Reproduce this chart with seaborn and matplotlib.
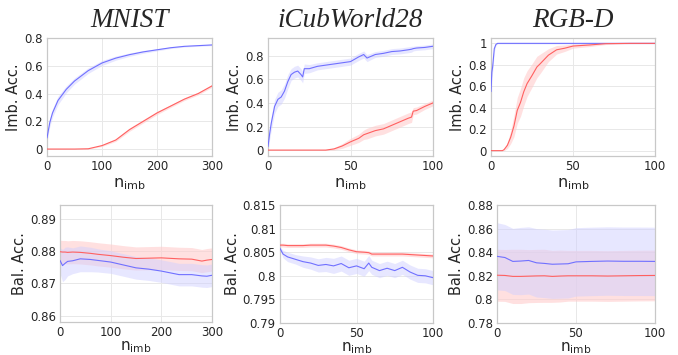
import numpy as np
import pandas as pd
import matplotlib
matplotlib.use("Agg")
import matplotlib.pyplot as plt
from matplotlib.ticker import FuncFormatter
import seaborn as sns

# ---------------- data ----------------
titles = ["MNIST", "iCubWorld28", "RGB-D"]

# Top row: imbalanced accuracy
mn_x = [0, 5, 10, 20, 35, 50, 75, 100, 125, 150, 175, 200, 225, 250, 275, 300]
mn_blue = [0.08, 0.19, 0.26, 0.35, 0.43, 0.49, 0.565, 0.62, 0.655, 0.68, 0.70, 0.715, 0.73, 0.74, 0.745, 0.75]
mn_blue_sd = [0.02, 0.03, 0.03, 0.03, 0.025, 0.022, 0.02, 0.018, 0.015, 0.012, 0.01, 0.008, 0.006, 0.005, 0.005, 0.005]
mn_red = [0, 0, 0, 0, 0, 0, 0.002, 0.025, 0.065, 0.14, 0.20, 0.26, 0.31, 0.36, 0.40, 0.455]
mn_red_sd = [0, 0, 0, 0, 0, 0, 0.002, 0.006, 0.01, 0.012, 0.012, 0.012, 0.01, 0.01, 0.01, 0.01]

ic_x = [0, 1, 2, 4, 6, 8, 10, 12, 14, 16, 18, 20, 21, 22, 25, 30, 35, 40, 45, 50,
        55, 58, 60, 65, 70, 75, 80, 85, 87, 88, 90, 95, 100]
ic_blue = [0.03, 0.14, 0.23, 0.37, 0.43, 0.45, 0.50, 0.58, 0.64, 0.66, 0.67, 0.64, 0.62, 0.69, 0.69,
           0.71, 0.72, 0.73, 0.74, 0.75, 0.79, 0.81, 0.78, 0.81, 0.82, 0.835, 0.84, 0.85, 0.855,
           0.86, 0.865, 0.87, 0.88]
ic_blue_sd = [0.03, 0.05, 0.06, 0.06, 0.06, 0.06, 0.06, 0.06, 0.05, 0.05, 0.05, 0.05, 0.05, 0.04, 0.035,
              0.03, 0.03, 0.03, 0.03, 0.03, 0.03, 0.03, 0.03, 0.025, 0.025, 0.025, 0.025, 0.025,
              0.025, 0.02, 0.02, 0.02, 0.02]
ic_red = [0] * 16 + [0.0, 0.01, 0.035, 0.07, 0.10, 0.13, 0.14, 0.165, 0.18, 0.21, 0.24, 0.27,
                     0.28, 0.33, 0.335, 0.37, 0.40]
ic_red_sd = [0] * 16 + [0.003, 0.01, 0.02, 0.03, 0.035, 0.04, 0.045, 0.045, 0.045, 0.045, 0.045,
                        0.045, 0.045, 0.03, 0.03, 0.025, 0.025]

rg_x = [0, 0.5, 1, 2, 3, 4, 6, 7, 8, 10, 12, 14, 16, 18, 20, 22, 25, 28, 30, 35, 40, 45, 50,
        60, 70, 85, 100]
rg_blue = [0.55, 0.73, 0.78, 0.95, 0.99] + [1.0] * 22
rg_blue_sd = [0.05, 0.05, 0.05, 0.03, 0.01] + [0.005] * 22
rg_red = [0] * 8 + [0.01, 0.05, 0.125, 0.23, 0.375, 0.45, 0.55, 0.625, 0.70, 0.78, 0.81, 0.89,
                    0.94, 0.955, 0.975, 0.985, 0.997, 1.0, 1.0]
rg_red_sd = [0] * 8 + [0.01, 0.03, 0.06, 0.1, 0.12, 0.13, 0.13, 0.12, 0.11, 0.1, 0.09, 0.06,
                       0.04, 0.03, 0.02, 0.015, 0.008, 0.003, 0.002]

# Bottom row: balanced accuracy
mb_x = [0, 5, 10, 15, 25, 40, 60, 75, 100, 125, 150, 175, 200, 235, 260, 280, 290, 300]
mb_red = [0.8798, 0.8797, 0.8797, 0.8796, 0.8797, 0.8796, 0.8793, 0.8790, 0.8786, 0.8781, 0.8777,
          0.8778, 0.8779, 0.8776, 0.8775, 0.8769, 0.8772, 0.8774]
mb_red_sd = [0.0036] * 18
mb_blue = [0.8771, 0.8755, 0.8762, 0.8768, 0.8770, 0.8776, 0.8774, 0.8771, 0.8766, 0.8757, 0.8748,
           0.8744, 0.8738, 0.8727, 0.8727, 0.8723, 0.8722, 0.8725]
mb_blue_sd = [0.004, 0.005, 0.005, 0.0045, 0.004, 0.004, 0.0038, 0.0036, 0.0035, 0.0035, 0.0035,
              0.0035, 0.0035, 0.0035, 0.0035, 0.0035, 0.0035, 0.0035]

ib_x = [0, 2, 5, 10, 15, 20, 25, 30, 35, 40, 45, 50, 55, 58, 60, 65, 70, 75, 80, 85, 90, 95, 100]
ib_red = [0.8065, 0.8065, 0.8064, 0.8064, 0.8064, 0.8065, 0.8065, 0.8065, 0.8063, 0.8060, 0.8055,
          0.8051, 0.8050, 0.8049, 0.8046, 0.8046, 0.8046, 0.8046, 0.8046, 0.8045, 0.8044, 0.8043,
          0.8042]
ib_red_sd = [0.0004] * 23
ib_blue = [0.8058, 0.8046, 0.8040, 0.8035, 0.8030, 0.8027, 0.8022, 0.8024, 0.8021, 0.8026, 0.8017,
           0.8021, 0.8015, 0.8027, 0.8018, 0.8011, 0.8016, 0.8011, 0.8018, 0.8008, 0.8001, 0.8000,
           0.7996]
ib_blue_sd = [0.0003, 0.0008, 0.001, 0.001, 0.0012, 0.0013, 0.0014, 0.0015, 0.0016, 0.0016, 0.0016,
              0.0016, 0.0016, 0.0016, 0.0015, 0.0015, 0.0015, 0.0015, 0.0015, 0.0015, 0.0015,
              0.0015, 0.0015]

rb_x = [0, 5, 10, 15, 20, 25, 30, 35, 40, 45, 50, 60, 70, 80, 90, 100]
rb_blue = [0.8365, 0.8355, 0.8322, 0.8325, 0.8330, 0.8310, 0.8305, 0.8298, 0.8300, 0.8302, 0.8318,
           0.8322, 0.8325, 0.8323, 0.8323, 0.8322]
rb_blue_sd = [0.0285, 0.028, 0.028, 0.0285, 0.0285, 0.029, 0.029, 0.029, 0.029, 0.029, 0.029,
              0.029, 0.029, 0.029, 0.029, 0.029]
rb_red = [0.8205, 0.8203, 0.8195, 0.8195, 0.8197, 0.8199, 0.8200, 0.8195, 0.8198, 0.8200, 0.8200,
          0.8200, 0.8198, 0.8200, 0.8202, 0.8203]
rb_red_sd = [0.022, 0.022, 0.023, 0.023, 0.0225, 0.0225, 0.0225, 0.022, 0.022, 0.0215, 0.0215,
             0.0215, 0.0215, 0.0215, 0.0215, 0.0215]

# ---------------- style ----------------
sns.set_style("whitegrid")
plt.rcParams["font.family"] = ["DejaVu Sans"]

BLUE = "#7070ff"
RED = "#ff6060"
BLUE_FILL = "#d0d0ff"
RED_FILL = "#ffcccc"
W, H = 678, 355

fig = plt.figure(figsize=(W / 100, H / 100), dpi=100)


def add_ax(x0, x1, y0, y1):
    return fig.add_axes([x0 / W, 1 - y1 / H, (x1 - x0) / W, (y1 - y0) / H])


fmt = FuncFormatter(lambda v, p: f"{round(v, 6):g}")

panels = [
    # (box, x, blue, blue_sd, red, red_sd, xlim, ylim, xticks, yticks, ylabel, title)
    ((47, 212, 38, 156), mn_x, mn_blue, mn_blue_sd, mn_red, mn_red_sd, (0, 300), (-0.05, 0.8),
     [0, 100, 200, 300], [0, 0.2, 0.4, 0.6, 0.8], "Imb. Acc.", titles[0]),
    ((268, 433, 38, 156), ic_x, ic_blue, ic_blue_sd, ic_red, ic_red_sd, (0, 100), (-0.05, 0.95),
     [0, 50, 100], [0, 0.2, 0.4, 0.6, 0.8], "Imb. Acc.", titles[1]),
    ((491, 655, 38, 156), rg_x, rg_blue, rg_blue_sd, rg_red, rg_red_sd, (0, 100), (-0.05, 1.05),
     [0, 50, 100], [0, 0.2, 0.4, 0.6, 0.8, 1.0], "Imb. Acc.", titles[2]),
    ((60, 212, 205, 322), mb_x, mb_blue, mb_blue_sd, mb_red, mb_red_sd, (0, 300), (0.858, 0.8943),
     [0, 100, 200, 300], [0.86, 0.87, 0.88, 0.89], "Bal. Acc.", None),
    ((280, 433, 205, 323), ib_x, ib_blue, ib_blue_sd, ib_red, ib_red_sd, (0, 100), (0.79, 0.815),
     [0, 50, 100], [0.79, 0.795, 0.8, 0.805, 0.81, 0.815], "Bal. Acc.", None),
    ((497, 655, 205, 323), rb_x, rb_blue, rb_blue_sd, rb_red, rb_red_sd, (0, 100), (0.78, 0.88),
     [0, 50, 100], [0.78, 0.8, 0.82, 0.84, 0.86, 0.88], "Bal. Acc.", None),
]

for i, (box, x, b, bsd, r, rsd, xlim, ylim, xt, yt, ylab, title) in enumerate(panels):
    ax = add_ax(*box)
    xa = np.array(x, dtype=float)
    b = np.array(b); bsd = np.array(bsd)
    r = np.array(r); rsd = np.array(rsd)
    ax.fill_between(xa, r - rsd, r + rsd, color=RED_FILL, alpha=0.6, lw=0, zorder=1)
    ax.fill_between(xa, b - bsd, b + bsd, color=BLUE_FILL, alpha=0.5, lw=0, zorder=1)
    df = pd.DataFrame({"x": np.concatenate([xa, xa]),
                       "y": np.concatenate([b, r]),
                       "s": ["blue"] * len(xa) + ["red"] * len(xa)})
    sns.lineplot(data=df, x="x", y="y", hue="s", palette={"blue": BLUE, "red": RED},
                 ax=ax, lw=0.8, legend=False, zorder=3)
    ax.set_xlim(*xlim)
    ax.set_ylim(*ylim)
    ax.set_xticks(xt)
    ax.set_yticks(yt)
    ax.xaxis.set_major_formatter(fmt)
    ax.yaxis.set_major_formatter(fmt)
    ax.tick_params(labelsize=8.5, colors="#262626", length=0, pad=3)
    ax.grid(True, color="#e8e8e8", lw=0.7)
    for sp in ax.spines.values():
        sp.set_color("#c8c8c8")
        sp.set_linewidth(0.9)
    ax.set_ylabel(ylab, fontsize=10.5, color="#262626", labelpad=2)
    ax.set_xlabel(r"n$_{\mathregular{imb}}$", fontsize=11 if i >= 3 else 11.5,
                  color="#262626", labelpad=0 if i >= 3 else 2)
    if title:
        ax.set_title(title, fontsize=19.5, family="Liberation Serif", style="italic", pad=8)

fig.savefig("out.png", dpi=100)
